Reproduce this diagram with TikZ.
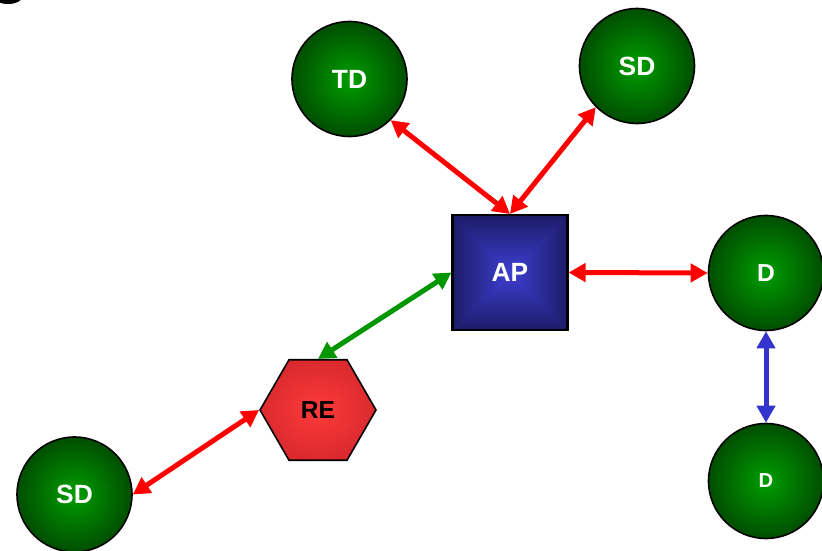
\documentclass[tikz,border=0pt]{standalone}
\usepackage{fontspec}
\setmainfont{Liberation Sans}
\usetikzlibrary{arrows.meta,shapes.geometric}
\definecolor{gIn}{RGB}{0,158,0}
\definecolor{gOut}{RGB}{0,78,0}
\definecolor{bIn}{RGB}{62,62,210}
\definecolor{bOut}{RGB}{28,28,105}
\definecolor{rIn}{RGB}{255,58,58}
\definecolor{rOut}{RGB}{218,42,46}
\definecolor{arRed}{RGB}{255,0,0}
\definecolor{arGreen}{RGB}{0,150,0}
\definecolor{arBlue}{RGB}{52,52,205}

\begin{document}
\begin{tikzpicture}[
  stn/.style={circle, draw=black, line width=0.9pt, minimum size=2.3cm, inner sep=0pt,
    shading=radial, inner color=gIn, outer color=gOut, text=white, font=\bfseries\fontsize{15}{15}\selectfont},
  ap/.style={rectangle, draw=black, line width=1.2pt, minimum size=2.3cm, inner sep=0pt,
    fill=bIn!55!bOut, text=white, font=\bfseries\fontsize{15}{15}\selectfont,
    path picture={
      \coordinate (bb1) at (path picture bounding box.north west);
      \coordinate (bb2) at (path picture bounding box.north east);
      \coordinate (bb3) at (path picture bounding box.south east);
      \coordinate (bb4) at (path picture bounding box.south west);
      \coordinate (bbc) at (path picture bounding box.center);
      \shade[top color=bOut, bottom color=bIn] (bb1) -- (bb2) -- (bbc) -- cycle;
      \shade[top color=bIn, bottom color=bOut] (bb4) -- (bb3) -- (bbc) -- cycle;
      \shade[left color=bOut, right color=bIn] (bb1) -- (bb4) -- (bbc) -- cycle;
      \shade[left color=bIn, right color=bOut] (bb2) -- (bb3) -- (bbc) -- cycle;}},
  hexa/.style={regular polygon, regular polygon sides=6, draw=black, line width=0.9pt,
    minimum size=2.32cm, inner sep=0pt, shading=radial, inner color=rIn, outer color=rOut,
    font=\bfseries\fontsize{14}{14}\selectfont},
  arr/.style={{Triangle[length=0.34cm,width=0.36cm]}-{Triangle[length=0.34cm,width=0.36cm]},
    line width=0.1cm, draw=arRed}]
\clip (0,0) rectangle (16.44,11.02);
\fill[black] (0.16,11.08) ellipse [x radius=0.28, y radius=0.14];
\node[stn] (td) at (6.99,9.44) {TD};
\node[stn] (sdtop) at (12.74,9.70) {SD};
\node[ap] (ap) at (10.2,5.57) {AP};
\node[stn, font=\bfseries\fontsize{14}{14}\selectfont] (dup) at (15.32,5.56) {D};
\node[stn, font=\bfseries\fontsize{11.5}{11.5}\selectfont] (ddown) at (15.32,1.40) {D};
\node[hexa] (re) at (6.36,2.82) {RE};
\node[stn] (sdlow) at (1.49,1.13) {SD};
\draw[arr] (td.south east) -- (ap.north);
\draw[arr] (sdtop.south west) -- (ap.north);
\draw[arr] (ap.east) -- (dup.west);
\draw[arr, draw=arGreen] (ap.west) -- (re.north);
\draw[arr] (sdlow.east) -- (re.west);
\draw[arr, draw=arBlue] (dup.south) -- (ddown.north);
\end{tikzpicture}
\end{document}
